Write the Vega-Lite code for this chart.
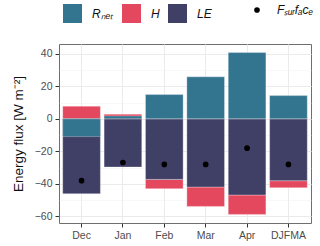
{
  "$schema": "https://vega.github.io/schema/vega-lite/v6.json",
  "width": 252,
  "height": 179,
  "autosize": "none",
  "padding": {"left": 59, "top": 44, "right": 9, "bottom": 23},
  "background": "white",
  "config": {
    "font": "Liberation Sans",
    "view": {"stroke": "#6e6e6e", "strokeWidth": 1},
    "axis": {"domain": false, "labelColor": "#4d4d4d", "labelFontSize": 10.5, "tickColor": "#333333", "tickSize": 4, "gridColor": "#ebebeb"}
  },
  "data": {
    "values": [
      {"month": "Dec", "component": "Rnet", "value": -10.9},
      {"month": "Jan", "component": "Rnet", "value": 1.8},
      {"month": "Feb", "component": "Rnet", "value": 14.9},
      {"month": "Mar", "component": "Rnet", "value": 25.8},
      {"month": "Apr", "component": "Rnet", "value": 40.7},
      {"month": "DJFMA", "component": "Rnet", "value": 14.3},
      {"month": "Dec", "component": "H", "value": 7.8},
      {"month": "Jan", "component": "H", "value": 2.9},
      {"month": "Feb", "component": "H", "value": -5.7},
      {"month": "Mar", "component": "H", "value": -11.9},
      {"month": "Apr", "component": "H", "value": -11.9},
      {"month": "DJFMA", "component": "H", "value": -4.3},
      {"month": "Dec", "component": "LE", "value": -46.0},
      {"month": "Jan", "component": "LE", "value": -29.6},
      {"month": "Feb", "component": "LE", "value": -37.2},
      {"month": "Mar", "component": "LE", "value": -41.9},
      {"month": "Apr", "component": "LE", "value": -46.8},
      {"month": "DJFMA", "component": "LE", "value": -38.0},
      {"month": "Dec", "component": "Fsurface", "value": -38.0},
      {"month": "Jan", "component": "Fsurface", "value": -26.8},
      {"month": "Feb", "component": "Fsurface", "value": -28.0},
      {"month": "Mar", "component": "Fsurface", "value": -28.0},
      {"month": "Apr", "component": "Fsurface", "value": -18.0},
      {"month": "DJFMA", "component": "Fsurface", "value": -28.0}
    ]
  },
  "encoding": {
    "x": {
      "field": "month", "type": "nominal",
      "sort": ["Dec", "Jan", "Feb", "Mar", "Apr", "DJFMA"],
      "scale": {"paddingInner": 0.09, "paddingOuter": 0.09},
      "axis": {"title": null, "labelAngle": 0, "grid": true, "bandPosition": 0.5, "labelPadding": 3}
    }
  },
  "layer": [
    {
      "transform": [{"filter": "datum.component == 'H' || datum.component == 'LE'"}],
      "mark": {"type": "bar", "stroke": "white", "strokeWidth": 0.5, "strokeOpacity": 0.6},
      "encoding": {
        "y": {
          "field": "value", "type": "quantitative", "stack": "zero",
          "scale": {"domain": [-64, 46], "nice": false, "zero": false},
          "axis": {
            "title": "Energy flux [W m⁻²]",
            "titleFontSize": 13.5, "titleFontWeight": "normal", "titleColor": "#111111", "titlePadding": 9,
            "values": [-60, -40, -20, 0, 20, 40],
            "labelPadding": 3
          }
        },
        "color": {
          "field": "component", "type": "nominal",
          "scale": {"domain": ["Rnet", "H", "LE"], "range": ["#33748f", "#e4485f", "#403f66"]},
          "legend": {
            "title": null, "orient": "none", "direction": "horizontal", "legendX": 4, "legendY": -40,
            "symbolType": "square", "symbolSize": 361, "symbolStrokeWidth": 0, "symbolOpacity": 1,
            "labelFontSize": 12, "labelFontStyle": "italic", "labelColor": "#111111", "labelOffset": 10,
            "columnPadding": 8,
            "labelExpr": "datum.label == 'Rnet' ? 'Rₙₑₜ' : datum.label"
          }
        },
        "order": {"field": "component", "sort": "descending"}
      }
    },
    {
      "transform": [{"filter": "datum.component == 'Rnet'"}],
      "mark": {"type": "bar", "stroke": "white", "strokeWidth": 0.5, "strokeOpacity": 0.6},
      "encoding": {
        "y": {"field": "value", "type": "quantitative", "axis": null},
        "color": {"field": "component", "type": "nominal"}
      }
    },
    {
      "mark": {"type": "rule", "strokeDash": [4, 3], "color": "#444444", "strokeWidth": 0.8},
      "encoding": {
        "y": {"datum": 0, "axis": {"orient": "right", "values": [-50, -30, -10, 10, 30], "labels": false, "ticks": false, "title": null, "grid": true, "gridWidth": 0.5, "gridColor": "#f0f0f0"}}
      }
    },
    {
      "transform": [{"filter": "datum.component == 'Fsurface'"}],
      "mark": {"type": "point", "filled": true, "color": "black", "size": 32, "opacity": 1},
      "encoding": {
        "y": {"field": "value", "type": "quantitative", "axis": null},
        "shape": {
          "field": "component", "type": "nominal",
          "scale": {"domain": ["Fsurface"], "range": ["circle"]},
          "legend": {
            "title": null, "orient": "none", "legendX": 192, "legendY": -40,
            "symbolSize": 32, "symbolFillColor": "black", "symbolStrokeColor": "black",
            "labelFontSize": 12, "labelFontStyle": "italic", "labelColor": "#111111", "labelOffset": 14,
            "labelExpr": "'Fₛᵤᵣfₐcₑ'"
          }
        }
      }
    }
  ],
  "resolve": {"axis": {"y": "independent"}}
}
